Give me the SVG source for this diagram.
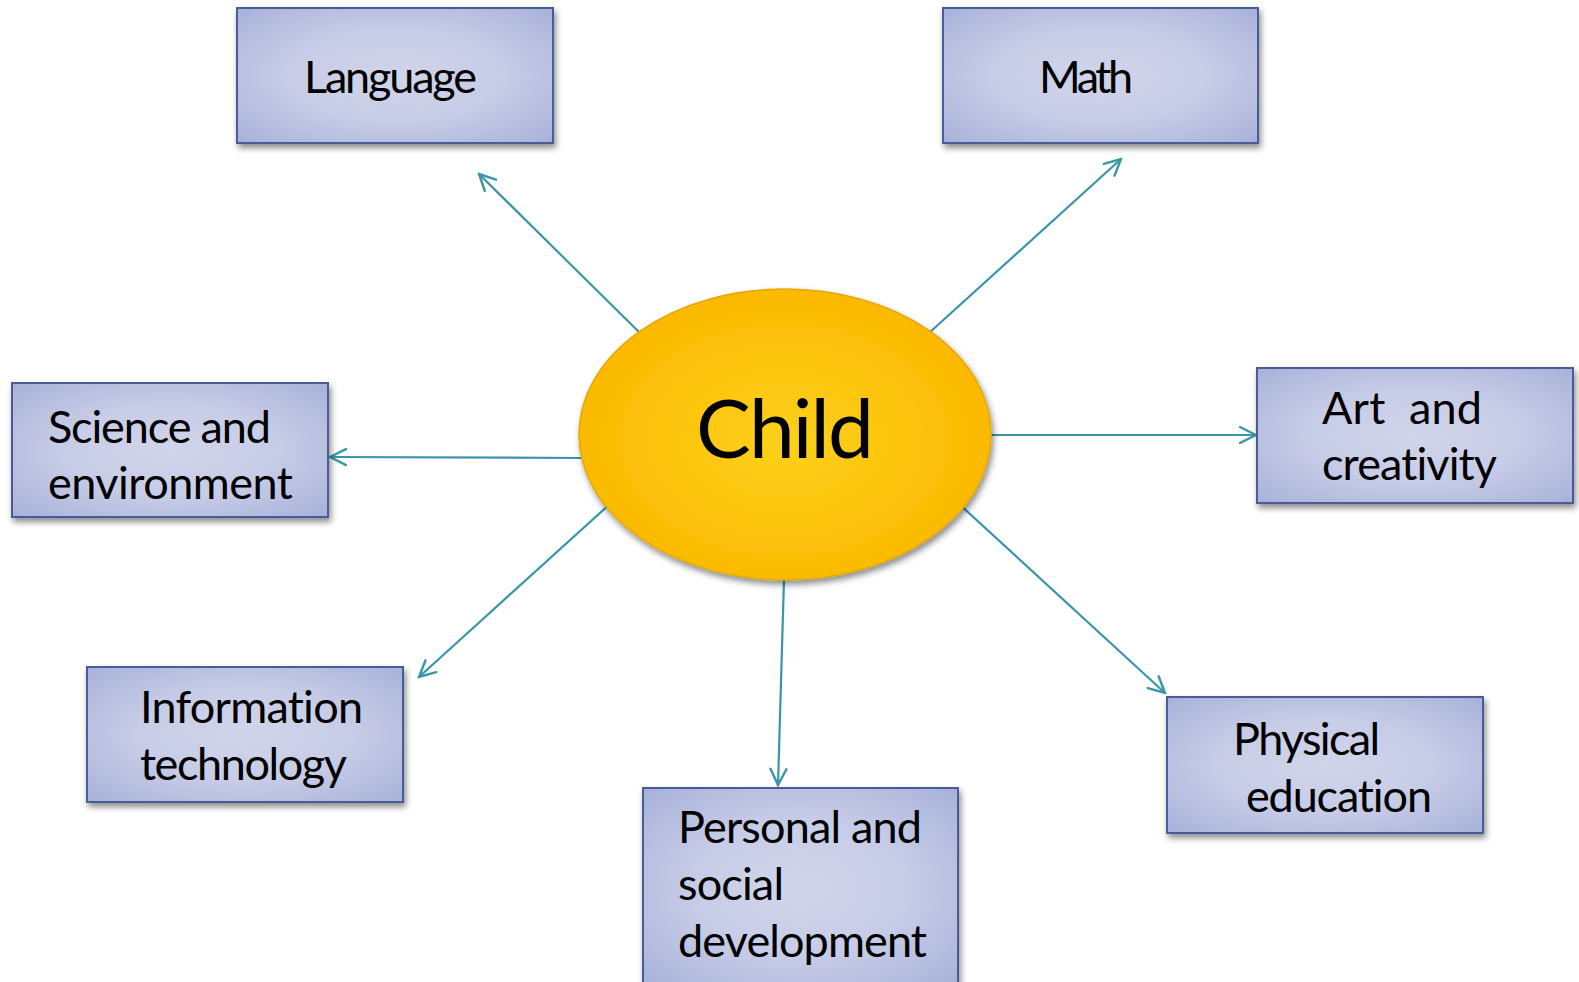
<svg xmlns="http://www.w3.org/2000/svg" width="1579" height="982" viewBox="0 0 1579 982">
  <defs>
    <radialGradient id="boxGrad" cx="50%" cy="50%" r="72%">
      <stop offset="0" stop-color="#d0d5ea"/>
      <stop offset="0.45" stop-color="#c8cde7"/>
      <stop offset="1" stop-color="#a6b0d9"/>
    </radialGradient>
    <radialGradient id="ellGrad" cx="50%" cy="52%" r="52%">
      <stop offset="0" stop-color="#fdd11c"/>
      <stop offset="1" stop-color="#fbb900"/>
    </radialGradient>
    <filter id="shadow" x="-10%" y="-10%" width="125%" height="130%">
      <feDropShadow dx="2" dy="4" stdDeviation="3" flood-color="#000" flood-opacity="0.45"/>
    </filter>
    <marker id="arrow" viewBox="0 0 20 20" refX="18" refY="10" markerWidth="20" markerHeight="20" markerUnits="userSpaceOnUse" orient="auto">
      <path d="M2,2 L18,10 L2,18" fill="none" stroke="#3a95a9" stroke-width="2.4" stroke-linecap="round" stroke-linejoin="miter"/>
    </marker>
  </defs>
  <style>
    .box { fill: url(#boxGrad); stroke: #4a5b98; stroke-width: 2; filter: url(#shadow); }
    .lbl { font-family: "Lato", "Open Sans", sans-serif; font-size: 45px; fill: #000; font-variant-ligatures: none; }
    .conn { stroke: #3a95a9; stroke-width: 2.2; fill: none; marker-end: url(#arrow); }
    .child { font-family: "Lato", "Open Sans", sans-serif; font-size: 82px; fill: #000; }
  </style>
  <rect width="1579" height="982" fill="#fff"/>

  <g id="connectors">
    <line class="conn" x1="640" y1="333" x2="479" y2="174"/>
    <line class="conn" x1="929" y1="333" x2="1121" y2="159"/>
    <line class="conn" x1="582" y1="458" x2="330" y2="457"/>
    <line class="conn" x1="990" y1="435" x2="1256" y2="435"/>
    <line class="conn" x1="611" y1="503" x2="419" y2="677"/>
    <line class="conn" x1="784" y1="579" x2="778" y2="785"/>
    <line class="conn" x1="958" y1="503" x2="1165" y2="693"/>
  </g>

  <g id="child">
    <ellipse cx="785" cy="434.5" rx="206" ry="145.5" fill="url(#ellGrad)" stroke="#e3a80a" stroke-width="1.5" filter="url(#shadow)"/>
    <text class="child" x="785" y="458" text-anchor="middle" textLength="178">Child</text>
  </g>

  <g id="language">
    <rect class="box" x="237" y="8" width="316" height="135"/>
    <text class="lbl" x="304" y="93" textLength="173">Language</text>
  </g>

  <g id="math">
    <rect class="box" x="943" y="8" width="315" height="135"/>
    <text class="lbl" x="1039" y="93" textLength="94">Math</text>
  </g>

  <g id="science">
    <rect class="box" x="12" y="383" width="316" height="134"/>
    <text class="lbl" x="48" y="443" textLength="223">Science and</text>
    <text class="lbl" x="48" y="499" textLength="245">environment</text>
  </g>

  <g id="art">
    <rect class="box" x="1257" y="368" width="316" height="135"/>
    <text class="lbl" x="1322" y="424" textLength="160" xml:space="preserve">Art  and</text>
    <text class="lbl" x="1322" y="480" textLength="175">creativity</text>
  </g>

  <g id="infotech">
    <rect class="box" x="87" y="667" width="316" height="135"/>
    <text class="lbl" x="140" y="723" textLength="223">Information</text>
    <text class="lbl" x="140" y="780" textLength="207">technology</text>
  </g>

  <g id="personal">
    <rect class="box" x="643" y="788" width="315" height="200"/>
    <text class="lbl" x="678" y="843" textLength="244">Personal and</text>
    <text class="lbl" x="678" y="900" textLength="106">social</text>
    <text class="lbl" x="678" y="957" textLength="249">development</text>
  </g>

  <g id="physical">
    <rect class="box" x="1167" y="697" width="316" height="136"/>
    <text class="lbl" x="1233" y="755" textLength="147">Physical</text>
    <text class="lbl" x="1246" y="812" textLength="186">education</text>
  </g>
</svg>
